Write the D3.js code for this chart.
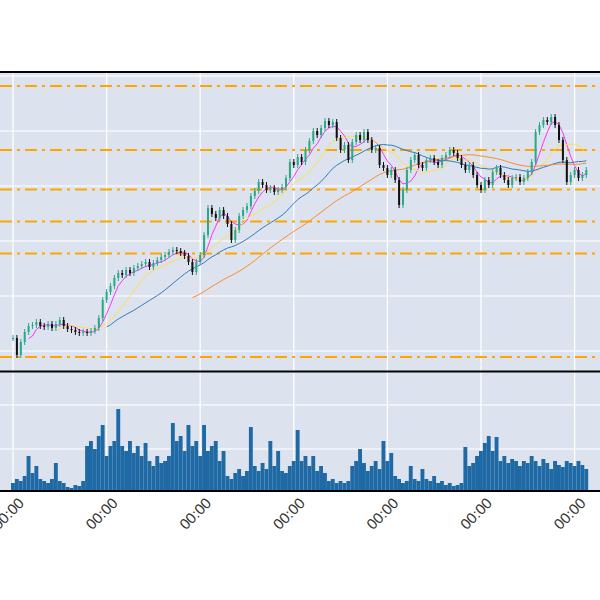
<!DOCTYPE html>
<html><head><meta charset="utf-8">
<script src="https://cdn.jsdelivr.net/npm/d3@7"></script>
<style>body{margin:0;background:#fff}svg{display:block}</style>
</head><body><svg id="c" width="600" height="600"></svg>
<script>
// hourly closes
var closes = [62,45,58,68,74,75,78,74,73,76,72,76,80,74,71,70,68,67,68,67,
  69,72,82,100,108,114,122,127,125,130,127,132,134,136,138,133,137,140,143,145,
  148,150,149,147,144,138,128,138,145,165,192,186,182,190,184,176,160,170,184,190,
  194,204,209,218,215,210,212,208,210,213,222,238,235,243,238,250,259,269,265,272,
  279,275,278,262,250,255,240,258,265,260,268,260,250,252,235,232,225,230,220,195,
  210,230,240,245,235,232,240,242,238,235,242,245,250,247,242,235,230,235,225,215,
  210,220,215,228,232,225,220,215,222,223,218,222,228,238,268,275,280,278,283,275,
  260,240,218,225,230,222,225,230];
var volumes = [8,12,10,15,35,18,25,12,10,8,12,28,10,8,4,3,6,5,10,45,
  50,42,55,66,35,45,50,82,45,40,50,38,45,35,48,30,25,35,28,30,
  35,68,50,55,40,66,45,50,35,66,40,45,50,30,40,15,12,18,22,15,
  20,64,25,20,28,22,50,25,40,20,18,25,30,61,30,35,25,35,20,25,
  18,10,12,8,10,8,10,25,30,42,28,20,25,30,22,50,30,38,15,12,
  8,10,25,12,10,22,12,10,15,8,10,6,8,5,6,8,44,25,28,35,
  40,48,55,40,54,30,35,28,32,30,25,30,28,35,30,25,32,28,22,30,
  26,24,30,28,25,30,26,22];
var maWindows = [5, 12, 25, 47];
var maColors = ["#ff33ff", "#ffe04a", "#2f7bbf", "#ff8a2a"];
var fibHigh = 314, fibLow = 43;
var fibLevels = [0, 0.236, 0.382, 0.5, 0.618, 1];
var priceGrid = [49, 104, 159, 214, 269, 324];
var volGrid = [0, 42, 86];

var t0 = new Date(2021, 2, 1, 0, 0);
var hour = 3600e3;
var data = closes.map(function(c, i) {
  return {t: new Date(+t0 + i * hour), open: i ? closes[i - 1] : c, close: c, vol: volumes[i]};
});

var svg = d3.select("#c");
var bg = "#dde3ee";
var x = d3.scaleTime()
  .domain([new Date(+t0 - 13 / 3.9 * hour), new Date(+t0 + (600 - 13) / 3.9 * hour)])
  .range([0, 600]);
var y = d3.scaleLinear().domain([29, 328]).range([371, 72]);
var yv = d3.scaleLinear().domain([0, 86]).range([491, 405]);

svg.append("rect").attr("x", 0).attr("y", 72).attr("width", 600).attr("height", 299).attr("fill", bg);
svg.append("rect").attr("x", 0).attr("y", 372).attr("width", 600).attr("height", 119).attr("fill", bg);

var days = d3.timeDay.range(t0, new Date(+t0 + 8 * 24 * hour));
svg.selectAll(".vg").data(days).join("line").attr("class", "vg")
  .attr("x1", d => x(d)).attr("x2", d => x(d)).attr("y1", 72).attr("y2", 491)
  .attr("stroke", "#fff").attr("stroke-width", 1.2);
svg.selectAll(".hg").data(priceGrid).join("line").attr("class", "hg")
  .attr("x1", 0).attr("x2", 600).attr("y1", d => y(d)).attr("y2", d => y(d))
  .attr("stroke", "#fff").attr("stroke-width", 1.2);
svg.selectAll(".vhg").data(volGrid).join("line").attr("class", "vhg")
  .attr("x1", 0).attr("x2", 600).attr("y1", d => yv(d)).attr("y2", d => yv(d))
  .attr("stroke", "#fff").attr("stroke-width", 1.2);

// fibonacci levels
svg.selectAll(".fib").data(fibLevels).join("line").attr("class", "fib")
  .attr("x1", 0).attr("x2", 600)
  .attr("y1", d => y(fibHigh - d * (fibHigh - fibLow))).attr("y2", d => y(fibHigh - d * (fibHigh - fibLow)))
  .attr("stroke", "#ffa500").attr("stroke-width", 2).attr("stroke-dasharray", "12,5,3,5");

// moving averages
maWindows.forEach(function(w, k) {
  var pts = data.slice(w - 1).map(function(d, j) {
    return {t: d.t, v: d3.mean(closes.slice(j, j + w))};
  });
  svg.append("path").datum(pts)
    .attr("d", d3.line().x(d => x(d.t)).y(d => y(d.v)))
    .attr("fill", "none").attr("stroke", maColors[k]).attr("stroke-width", 1);
});

// candles
var cw = 2;
var up = "#2aa889", down = "#111";
var g = svg.append("g");
g.selectAll("line").data(data).join("line")
  .attr("x1", d => x(d.t)).attr("x2", d => x(d.t))
  .attr("y1", d => y(Math.max(d.open, d.close)) - 3).attr("y2", d => y(Math.min(d.open, d.close)) + 3)
  .attr("stroke", d => d.close >= d.open ? up : down).attr("stroke-width", 1);
g.selectAll("rect").data(data).join("rect")
  .attr("x", d => x(d.t) - cw / 2).attr("width", cw)
  .attr("y", d => y(Math.max(d.open, d.close)))
  .attr("height", d => Math.max(1, Math.abs(y(d.open) - y(d.close))))
  .attr("fill", d => d.close >= d.open ? up : down);

// volume
svg.selectAll(".vb").data(data).join("rect").attr("class", "vb")
  .attr("x", d => x(d.t) - 2).attr("width", 3.9)
  .attr("y", d => yv(d.vol)).attr("height", d => 491 - yv(d.vol))
  .attr("fill", "#1f6aa5");

// borders
[72, 371.5, 491].forEach(function(v) {
  svg.append("line").attr("x1", 0).attr("x2", 600).attr("y1", v).attr("y2", v)
    .attr("stroke", "#000").attr("stroke-width", 2);
});

// x tick labels
svg.selectAll(".tl").data(days).join("text").attr("class", "tl")
  .attr("transform", d => "translate(" + (x(d) + 12) + ",504) rotate(-45)")
  .attr("text-anchor", "end").attr("font-family", "Liberation Sans, Arial, sans-serif")
  .attr("font-size", 15).attr("fill", "#333")
  .text(d => d3.timeFormat("%H:%M")(d));
</script></body></html>
